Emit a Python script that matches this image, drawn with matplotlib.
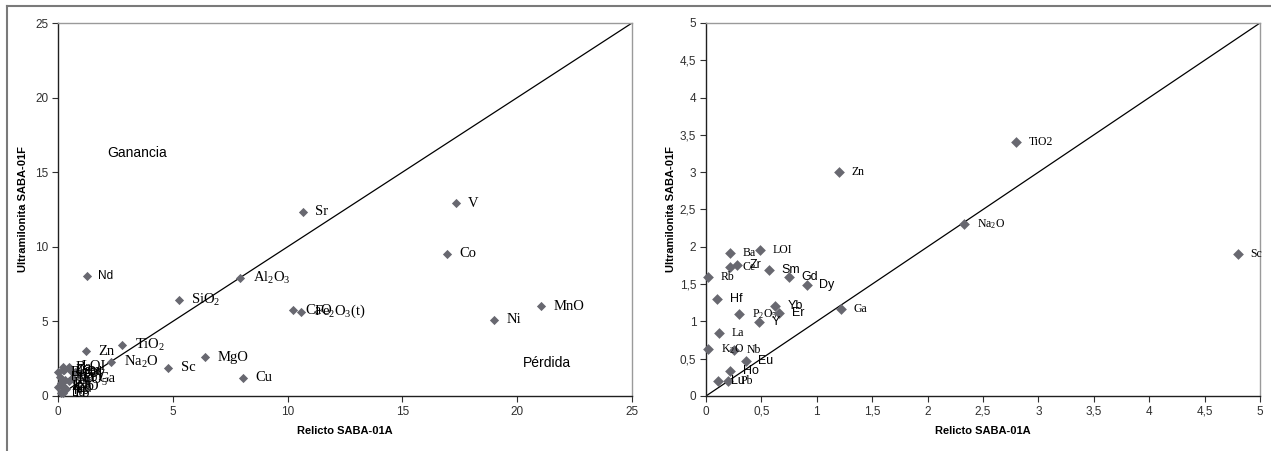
import matplotlib
matplotlib.use("Agg")
import matplotlib.pyplot as plt
from matplotlib.lines import Line2D
from matplotlib.ticker import FuncFormatter, MultipleLocator

# Elementos: relicto (SABA-01A) vs ultramilonita (SABA-01F)
elements = ["SiO2", "Al2O3", "Fe2O3(t)", "CaO", "MnO", "MgO", "Na2O", "K2O",
            "TiO2", "P2O5", "LOI", "Ba", "Sr", "V", "Co", "Ni", "Cu", "Zn",
            "Ga", "Sc", "Nd", "Rb", "Ce", "Zr", "Sm", "Gd", "Dy", "Hf", "Yb",
            "Er", "Y", "La", "Nb", "Eu", "Ho", "Lu", "Pb"]
relicto = [5.27, 7.93, 10.60, 10.23, 21.03, 6.41, 2.33, 0.02,
           2.80, 0.30, 0.49, 0.22, 10.66, 17.32, 16.95, 19.00, 8.05, 1.20,
           1.22, 4.80, 1.27, 0.02, 0.22, 0.28, 0.57, 0.75, 0.91, 0.10, 0.62,
           0.66, 0.48, 0.12, 0.25, 0.36, 0.22, 0.11, 0.20]
ultramilonita = [6.42, 7.89, 5.66, 5.75, 6.02, 2.59, 2.31, 0.63,
                 3.41, 1.10, 1.96, 1.92, 12.34, 12.92, 9.53, 5.10, 1.21, 3.00,
                 1.16, 1.91, 8.03, 1.59, 1.73, 1.75, 1.69, 1.59, 1.49, 1.30, 1.20,
                 1.11, 0.99, 0.84, 0.61, 0.47, 0.34, 0.20, 0.20]

# etiquetas con subíndices
pretty = {"SiO2": "SiO$_2$", "Al2O3": "Al$_2$O$_3$", "Fe2O3(t)": "Fe$_2$O$_3$(t)",
          "Na2O": "Na$_2$O", "K2O": "K$_2$O", "TiO2": "TiO$_2$", "P2O5": "P$_2$O$_5$"}
sans_labels = {"Nd", "Zr", "Sm", "Gd", "Dy", "Hf", "Yb", "Er", "Y", "Eu", "Ho", "Lu"}

plt.rcParams['font.family'] = ['Liberation Sans', 'DejaVu Sans']
plt.rcParams['mathtext.fontset'] = 'custom'
plt.rcParams['mathtext.rm'] = 'Liberation Serif'
plt.rcParams['mathtext.it'] = 'Liberation Serif:italic'
plt.rcParams['mathtext.bf'] = 'Liberation Serif:bold'

MARKER_COLOR = '#686870'
TICK_COLOR = '#303030'


def comma(v, pos):
    return f"{v:g}".replace('.', ',')


def setup_axes(ax, lim, step, labelpad_y):
    ax.set_xlim(0, lim)
    ax.set_ylim(0, lim)
    ax.plot([0, lim], [0, lim], color='black', lw=0.9, zorder=2)
    ax.xaxis.set_major_locator(MultipleLocator(step))
    ax.yaxis.set_major_locator(MultipleLocator(step))
    ax.xaxis.set_major_formatter(FuncFormatter(comma))
    ax.yaxis.set_major_formatter(FuncFormatter(comma))
    ax.tick_params(direction='out', length=4, width=0.8, labelsize=8.5,
                   colors=TICK_COLOR, pad=3)
    for s in ['left', 'bottom']:
        ax.spines[s].set_color('#202020')
        ax.spines[s].set_linewidth(1.0)
    for s in ['top', 'right']:
        ax.spines[s].set_color('#9a9a9a')
        ax.spines[s].set_linewidth(1.0)
    ax.set_xlabel("Relicto SABA-01A", fontsize=8, fontweight='bold', labelpad=6)
    ax.set_ylabel("Ultramilonita SABA-01F", fontsize=8, fontweight='bold',
                  labelpad=labelpad_y)


fig = plt.figure(figsize=(12.71, 4.51), dpi=100)
ax1 = fig.add_axes([58 / 1271, 1 - 396 / 451, 574 / 1271, 373 / 451])
ax2 = fig.add_axes([706 / 1271, 1 - 396 / 451, 554 / 1271, 373 / 451])

# ---- panel izquierdo (0-25) ----
setup_axes(ax1, 25, 5, 5)
ax1.scatter(relicto, ultramilonita, marker='D', s=22, color=MARKER_COLOR,
            linewidths=0, zorder=3, clip_on=False)
for name, x, y in zip(elements, relicto, ultramilonita):
    if name in sans_labels:
        ax1.annotate(name, (x, y), xytext=(8, 0), textcoords='offset points',
                     va='center', fontsize=8.5, family='Liberation Sans')
    else:
        ax1.annotate(pretty.get(name, name), (x, y), xytext=(9, 0),
                     textcoords='offset points', va='center', fontsize=10.5,
                     family='Liberation Serif')
ax1.text(2.13, 16.3, "Ganancia", fontsize=10, va='center', ha='left')
ax1.text(20.25, 2.19, "Pérdida", fontsize=10, va='center', ha='left')

# ---- panel derecho (0-5) ----
setup_axes(ax2, 5, 0.5, 3)
inside = [(n, x, y) for n, x, y in zip(elements, relicto, ultramilonita)
          if x <= 5 and y <= 5]
ax2.scatter([p[1] for p in inside], [p[2] for p in inside], marker='D', s=30,
            color=MARKER_COLOR, linewidths=0, zorder=3, clip_on=False)
for name, x, y in inside:
    if name in sans_labels:
        ax2.annotate(name, (x, y), xytext=(9, 0), textcoords='offset points',
                     va='center', fontsize=9, family='Liberation Sans')
    else:
        label = "TiO2" if name == "TiO2" else pretty.get(name, name)
        ax2.annotate(label, (x, y), xytext=(9, 0), textcoords='offset points',
                     va='center', fontsize=8.5, family='Liberation Serif')

# marco de la figura
fig.add_artist(Line2D([6.5 / 1271, 1], [1 - 5.5 / 451, 1 - 5.5 / 451],
                      color='#7a7a7a', lw=1.5))
fig.add_artist(Line2D([6.5 / 1271, 6.5 / 1271], [0, 1 - 5.5 / 451],
                      color='#7a7a7a', lw=1.5))

fig.savefig("out.png", dpi=100)
